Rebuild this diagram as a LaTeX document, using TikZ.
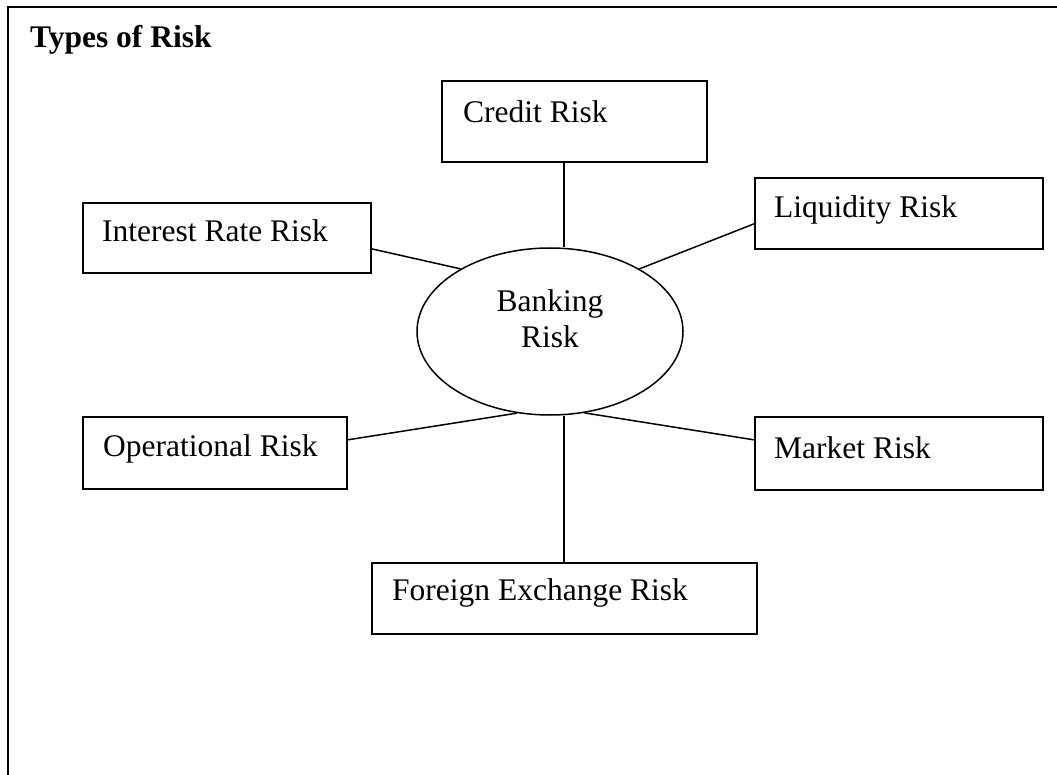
\documentclass[tikz,border=0pt]{standalone}
\usepackage{fontspec}
\setmainfont{Liberation Serif}
\usetikzlibrary{shapes.geometric}
\begin{document}
\begin{tikzpicture}[x=1pt,y=-1pt,
  riskbox/.style={draw, line width=1.7pt, inner sep=0pt, anchor=north west},
  lbl/.style={font=\fontsize{31.5}{36}\selectfont, inner sep=0pt, anchor=base west},
  conn/.style={line width=1.5pt},
  framepen/.style={line width=1.8pt}]
\useasboundingbox (0,0) rectangle (1057,775);
% page frame (top and left)
\coordinate (fTL) at (8,7);
\coordinate (fTR) at (1057,7);
\coordinate (fBL) at (8,775);
\draw[framepen] (fTR) -- (fTL) -- (fBL);
\node[lbl, font=\fontsize{31.5}{36}\selectfont\bfseries] (title) at (30,48) {Types of Risk};
% boxes
\node[riskbox, minimum width=265pt, minimum height=81pt] (credit) at (441,80) {};
\node[riskbox, minimum width=288pt, minimum height=70pt] (ir) at (82,202) {};
\node[riskbox, minimum width=288pt, minimum height=71pt] (liq) at (754,177) {};
\node[riskbox, minimum width=264pt, minimum height=72pt] (op) at (82,416) {};
\node[riskbox, minimum width=288pt, minimum height=73pt] (mkt) at (754,416) {};
\node[riskbox, minimum width=385pt, minimum height=71pt] (fx) at (371,562) {};
% labels
\node[lbl] (creditT) at (463,123) {Credit Risk};
\node[lbl] (irT) at (102,241.7) {Interest Rate Risk};
\node[lbl] (liqT) at (774,217.3) {Liquidity Risk};
\node[lbl] (opT) at (103,456.7) {Operational Risk};
\node[lbl] (mktT) at (774,458.3) {Market Risk};
\node[lbl] (fxT) at (392,600) {Foreign Exchange Risk};
% central ellipse
\node[ellipse, draw, line width=1.5pt, minimum width=266pt, minimum height=167pt, inner sep=0pt] (bank) at (550,331.5) {};
\node[font=\fontsize{31.5}{36}\selectfont, align=center, inner sep=0pt] (bankT) at (550,319) {Banking\\Risk};
% connectors
\draw[conn] ([xshift=-10.5pt]credit.south) coordinate (c1) -- (c1 |- bank.north);
\draw[conn] ([yshift=-11pt]ir.east) -- (bank.145);
\draw[conn] ([yshift=-10.5pt]liq.west) -- (bank.35);
\draw[conn] ([yshift=13pt]op.east) -- (bank.-112.5);
\draw[conn] ([yshift=13.5pt]mkt.west) -- (bank.-67.5);
\draw[conn] ([xshift=-0.5pt]fx.north) coordinate (f1) -- (f1 |- bank.south);
\end{tikzpicture}
\end{document}
